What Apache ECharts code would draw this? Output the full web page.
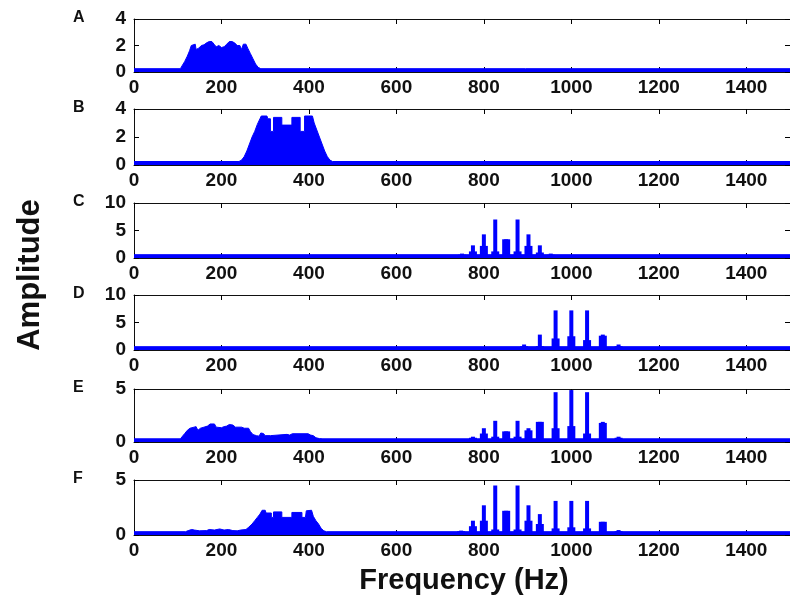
<!DOCTYPE html>
<html>
<head>
<meta charset="utf-8">
<script src="https://cdn.jsdelivr.net/npm/echarts@6/dist/echarts.min.js"></script>
<style>html,body{margin:0;padding:0;background:#fff}#c{width:790px;height:602px}</style>
</head>
<body>
<div id="c"></div>
<script>
// ---------- DATA ----------
const panelLabels = ['A', 'B', 'C', 'D', 'E', 'F'];
const yMax = [4, 4, 10, 10, 5, 5];
const yStep = [2, 2, 5, 5, 5, 5];
const xMin = 0, xMax = 1500, xStep = 200;

// broadband parts [Hz, amplitude]
const bandA = [[0,0.25],[106,0.25],[110,0.4],[116,0.8],[122,1.2],[127,1.6],[131,2.0],[134,2.15],[140,2.1],[142,1.7],[148,1.8],[154,2.0],[160,2.05],[166,2.2],[172,2.3],[178,2.3],[183,2.1],[188,1.9],[194,2.0],[200,1.85],[206,1.9],[212,2.1],[218,2.3],[224,2.3],[230,2.2],[236,2.0],[242,2.0],[246,1.7],[250,2.1],[256,2.1],[260,1.8],[266,1.4],[272,1.0],[278,0.6],[284,0.35],[290,0.25],[1500,0.25]];
const bandB = [[0,0.25],[240,0.25],[246,0.35],[252,0.6],[258,1.0],[264,1.5],[270,2.0],[276,2.4],[282,2.9],[288,3.3],[291,3.5],[304,3.5],[306,3.3],[312,3.3],[312,2.4],[319,2.4],[319,3.4],[338,3.4],[338,2.85],[361,2.85],[361,3.4],[380,3.4],[380,2.4],[390,2.4],[390,3.5],[408,3.5],[412,3.0],[418,2.5],[424,2.0],[430,1.5],[436,1.0],[442,0.6],[448,0.35],[454,0.25],[1500,0.25]];
const bandC = [[0,0.6],[1500,0.6]];
const bandD = [[0,0.6],[1500,0.6]];
const bandE = [[0,0.3],[106,0.3],[110,0.4],[116,0.8],[122,1.1],[128,1.3],[132,1.4],[142,1.45],[146,1.1],[152,1.3],[160,1.4],[168,1.5],[174,1.7],[184,1.7],[188,1.4],[200,1.35],[206,1.45],[212,1.5],[218,1.65],[226,1.6],[232,1.4],[246,1.4],[252,1.3],[262,1.3],[266,1.0],[272,0.7],[280,0.6],[286,0.55],[290,0.85],[296,0.8],[300,0.6],[312,0.6],[316,0.72],[350,0.72],[356,0.65],[362,0.78],[398,0.78],[404,0.65],[410,0.6],[416,0.4],[424,0.32],[432,0.3],[1500,0.3]];
const bandF = [[0,0.3],[118,0.3],[124,0.4],[132,0.5],[138,0.45],[150,0.38],[166,0.4],[172,0.5],[184,0.45],[196,0.55],[206,0.45],[216,0.5],[226,0.4],[236,0.38],[244,0.45],[256,0.5],[262,0.7],[270,1.0],[276,1.3],[282,1.6],[288,1.9],[293,2.25],[300,2.25],[302,2.0],[314,2.0],[314,1.6],[319,1.6],[319,2.1],[338,2.1],[338,1.6],[361,1.6],[361,2.05],[384,2.05],[384,1.6],[392,1.6],[394,2.2],[406,2.25],[410,1.7],[416,1.3],[422,1.0],[428,0.6],[434,0.38],[440,0.3],[1500,0.3]];

// spectral lines: centre frequency, peak height, shoulder height
const peakHzA = [], peakA = [], shoulderA = [];
const peakHzB = [], peakB = [], shoulderB = [];
const peakHzC = [750,775,800,826,851,877,902,928,953];
const peakC   = [0.8,2.3,4.3,7.0,3.4,7.0,4.3,2.3,0.8];
const shoulderC = [0.6,1.2,2.2,1.2,3.4,1.2,2.2,1.0,0.6];
const peakHzD = [892,928,964,1000,1036,1072,1108];
const peakD   = [1.0,2.8,7.2,7.2,7.2,2.8,1.0];
const shoulderD = [0.7,0.7,2.1,2.5,1.8,2.6,0.7];
const peakHzE = [775,800,826,851,877,902,928,964,1000,1036,1072,1108];
const peakE   = [0.5,1.3,2.0,1.0,2.0,1.3,1.9,4.7,4.9,4.7,1.9,0.5];
const shoulderE = [0.4,0.8,0.5,1.0,0.5,1.1,1.9,1.3,1.5,0.8,1.8,0.4];
const peakHzF = [748,775,800,826,851,877,902,928,964,1000,1036,1072,1108];
const peakF   = [0.4,1.3,2.7,4.5,2.2,4.5,2.7,1.9,3.1,3.1,3.1,1.2,0.45];
const shoulderF = [0.35,0.8,1.3,0.5,2.2,0.5,1.3,1.0,0.6,0.7,0.6,1.2,0.35];

const bands = [bandA, bandB, bandC, bandD, bandE, bandF];
const peakHz = [peakHzA, peakHzB, peakHzC, peakHzD, peakHzE, peakHzF];
const peaks = [peakA, peakB, peakC, peakD, peakE, peakF];
const shoulders = [shoulderA, shoulderB, shoulderC, shoulderD, shoulderE, shoulderF];

// ---------- LAYOUT ----------
const panelTop = [19, 109, 203, 295, 389, 480];
const panelHeight = [53, 56, 55, 55, 53, 55];
const plotLeft = 134, plotWidth = 664;
const BLUE = '#0000ff';
const FONT = '"Liberation Sans", Arial, Helvetica, sans-serif';

const chart = echarts.init(document.getElementById('c'), null, {renderer: 'canvas'});
const grid = [], xAxis = [], yAxis = [], series = [], graphic = [];
const tickStyle = {inside: true, length: 5, lineStyle: {color: '#000', width: 1}};
const lineStyle = {lineStyle: {color: '#111', width: 1}, onZero: false};
const labelStyle = {fontFamily: FONT, fontWeight: 'bold', fontSize: 19, color: '#111',
  formatter: v => String(v)};

for (let i = 0; i < 6; i++) {
  grid.push({left: plotLeft, top: panelTop[i], width: plotWidth, height: panelHeight[i]});
  xAxis.push({type: 'value', gridIndex: i, min: xMin, max: xMax, interval: xStep, position: 'bottom',
    axisLine: lineStyle, axisTick: tickStyle, splitLine: {show: false},
    axisLabel: Object.assign({margin: 6, showMaxLabel: false}, labelStyle)});
  yAxis.push({type: 'value', gridIndex: i, min: 0, max: yMax[i], interval: yStep[i], position: 'left',
    axisLine: lineStyle, axisTick: tickStyle, splitLine: {show: false},
    axisLabel: Object.assign({margin: 8}, labelStyle)});
}
for (let i = 0; i < 6; i++) {
  xAxis.push({type: 'value', gridIndex: i, min: xMin, max: xMax, interval: xStep, position: 'top',
    axisLine: lineStyle, axisTick: tickStyle, axisLabel: {show: false}, splitLine: {show: false}});
  yAxis.push({type: 'value', gridIndex: i, min: 0, max: yMax[i], interval: yStep[i], position: 'right',
    axisLine: lineStyle, axisTick: tickStyle, axisLabel: {show: false}, splitLine: {show: false}});
}
for (let i = 0; i < 6; i++) {
  series.push({type: 'line', xAxisIndex: i, yAxisIndex: i, data: bands[i], showSymbol: false,
    symbol: 'none', lineStyle: {color: BLUE, width: 1}, areaStyle: {color: BLUE, opacity: 1},
    itemStyle: {color: BLUE}, z: 2, animation: false});
  if (peakHz[i].length) {
    series.push({type: 'bar', xAxisIndex: 6 + i, yAxisIndex: i, barWidth: 8,
      data: peakHz[i].map((f, k) => [f, shoulders[i][k]]),
      itemStyle: {color: BLUE}, z: 3, animation: false});
    series.push({type: 'bar', xAxisIndex: i, yAxisIndex: i, barWidth: 4,
      data: peakHz[i].map((f, k) => [f, peaks[i][k]]),
      itemStyle: {color: BLUE}, z: 4, animation: false});
  }
  graphic.push({type: 'text', left: 73, top: panelTop[i] - 9,
    style: {text: panelLabels[i], font: 'bold 16px ' + FONT, fill: '#111'}});
}
graphic.push({type: 'text', x: 30, y: 275, rotation: Math.PI / 2,
  style: {text: 'Amplitude', font: 'bold 31px ' + FONT, fill: '#111', textAlign: 'center', textVerticalAlign: 'middle'}});
graphic.push({type: 'text', x: 464, y: 581,
  style: {text: 'Frequency (Hz)', font: 'bold 29px ' + FONT, fill: '#111', textAlign: 'center', textVerticalAlign: 'middle'}});

chart.setOption({animation: false, backgroundColor: '#fff', grid, xAxis, yAxis, series, graphic});
</script>
</body>
</html>
